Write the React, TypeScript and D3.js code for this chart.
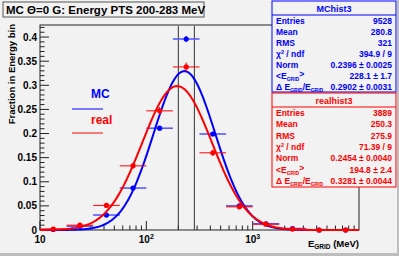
import * as React from "react";
import * as d3 from "d3";

// bin centres, log10(E / MeV), bins are 0.25 decade wide
const binCentersLog = [1.125, 1.375, 1.625, 1.875, 2.125, 2.375, 2.625, 2.875, 3.125, 3.375, 3.625, 3.875];
const mcValues = [0.001, 0.008, 0.031, 0.087, 0.211, 0.396, 0.199, 0.050, 0.013, 0.003, 0.0, 0.0];
const mcErrors = [0.0003, 0.0009, 0.0018, 0.003, 0.0047, 0.0064, 0.0046, 0.0023, 0.0012, 0.0006, 0, 0];
const realValues = [0.002, 0.010, 0.051, 0.133, 0.247, 0.338, 0.160, 0.048, 0.012, 0.002, 0.0, 0.0];
const realErrors = [0.0007, 0.0016, 0.0036, 0.0058, 0.008, 0.0093, 0.0064, 0.0035, 0.0018, 0.0007, 0, 0];

const yTicks = [0, 0.05, 0.1, 0.15, 0.2, 0.25, 0.3, 0.35, 0.4];
const yTickLabels = ["0", "0.05", "0.1", "0.15", "0.2", "0.25", "0.3", "0.35", "0.4"];
const xTicks = [10, 100, 1000];
const xTickExp = ["", "2", "3"];
const cutLines = [200, 283];

const mcStats = [
  ["Entries", "9528"],
  ["Mean", "280.8"],
  ["RMS", "321"],
  ["chi", "394.9 / 9"],
  ["Norm", "0.2396 ± 0.0025"],
  ["E", "228.1 ± 1.7"],
  ["dE", "0.2902 ± 0.0031"],
];
const realStats = [
  ["Entries", "3889"],
  ["Mean", "250.3"],
  ["RMS", "275.9"],
  ["chi", "71.39 / 9"],
  ["Norm", "0.2454 ± 0.0040"],
  ["E", "194.8 ± 2.4"],
  ["dE", "0.3281 ± 0.0044"],
];
const mcFit = { norm: 0.2396, mean: 228.1, width: 0.2902 };
const realFit = { norm: 0.2454, mean: 194.8, width: 0.3281 };

const W = 399, H = 256;
const frame = { left: 40, right: 359, top: 25, bottom: 230 };
const FONT = "'Liberation Sans', Arial, Helvetica, sans-serif";
const BLUE = "#0000ff";
const RED = "#ff0000";

const x = d3.scaleLog().domain([10, 10000]).range([frame.left, frame.right]);
const y = d3.scaleLinear().domain([0, 0.425]).range([frame.bottom, frame.top]);

// gaussian in log10(E) fitted to each histogram
function fitCurve(p: { norm: number; mean: number; width: number }) {
  const m = Math.log10(p.mean);
  const pts = d3.range(0, 301).map(i => {
    const lx = 1 + (3 * i) / 300;
    const v = (p.norm / (p.width * Math.sqrt(2 * Math.PI))) *
      Math.exp(-((lx - m) ** 2) / (2 * p.width * p.width));
    return [Math.pow(10, lx), v] as [number, number];
  });
  return d3.line<[number, number]>().x(d => x(d[0])).y(d => y(d[1]))(pts) || "";
}

function StatLabel({ k }: { k: string }) {
  if (k === "chi") return <tspan>χ<tspan dy={-3} fontSize={5.5}>2</tspan><tspan dy={3}> / ndf</tspan></tspan>;
  if (k === "E") return <tspan>{"<E"}<tspan dy={2} fontSize={5}>GRID</tspan><tspan dy={-4}>{">"}</tspan></tspan>;
  if (k === "dE") return <tspan>Δ E<tspan dy={2} fontSize={5}>GRID</tspan><tspan dy={-2}>/E</tspan><tspan dy={2} fontSize={5}>GRID</tspan></tspan>;
  return <tspan>{k}</tspan>;
}

function StatsBox({ title, rows, color, top, bottom }: any) {
  const x0 = 272, x1 = 396;
  const rowH = (bottom - top - 14) / rows.length;
  return (
    <g fontFamily={FONT} fontWeight="bold" fontSize={8.5} fill={color}>
      <rect x={x0} y={top} width={x1 - x0} height={bottom - top} fill="#f2f2f2" stroke={color} />
      <text x={(x0 + x1) / 2} y={top + 10.5} textAnchor="middle" fontSize={9}>{title}</text>
      <line x1={x0} x2={x1} y1={top + 14} y2={top + 14} stroke={color} />
      {rows.map((r: string[], i: number) => {
        const cy = top + 14 + rowH * (i + 0.5) + 3;
        return (
          <g key={i}>
            <text x={x0 + 4} y={cy}><StatLabel k={r[0]} /></text>
            <text x={x1 - 4} y={cy} textAnchor="end">{r[1]}</text>
          </g>
        );
      })}
    </g>
  );
}

function Histo({ values, errors, color, barColor, barWidth }: any) {
  return (
    <g>
      {binCentersLog.map((c, i) => {
        const cx = x(Math.pow(10, c));
        const cy = y(values[i]);
        return (
          <g key={i}>
            <line x1={x(Math.pow(10, c - 0.125))} x2={x(Math.pow(10, c + 0.125))} y1={cy} y2={cy}
              stroke={barColor} strokeWidth={barWidth} />
            <line x1={cx} x2={cx} y1={y(values[i] - errors[i])} y2={y(values[i] + errors[i])} stroke={color} />
            <circle cx={cx} cy={cy} r={2.6} fill={color} />
          </g>
        );
      })}
    </g>
  );
}

export default function App() {
  const yMinor = d3.range(0, 0.4201, 0.01);
  const xMinor: number[] = [];
  [10, 100, 1000].forEach(d => { for (let k = 2; k <= 9; k++) xMinor.push(d * k); });

  return (
    <svg width={W} height={H} style={{ position: "absolute", left: 0, top: 0, background: "#f2f2f2" }}>
      {/* canvas bevel */}
      <rect x={0} y={0} width={W} height={H} fill="#f2f2f2" />
      <line x1={0} x2={W} y1={H - 1.5} y2={H - 1.5} stroke="#bdbdbd" strokeWidth={3} />
      <line x1={W - 1} x2={W - 1} y1={0} y2={H} stroke="#bdbdbd" strokeWidth={2} />

      {/* frame */}
      <rect x={frame.left} y={frame.top} width={frame.right - frame.left} height={frame.bottom - frame.top}
        fill="#f2f2f2" stroke="#222" strokeWidth={1} />

      {/* y ticks */}
      {yMinor.map((v, i) => {
        const major = i % 5 === 0;
        return <line key={i} x1={frame.left} x2={frame.left + (major ? 9 : 4.5)} y1={y(v)} y2={y(v)} stroke="#222" />;
      })}
      {/* x ticks */}
      {xMinor.map((v, i) => (
        <line key={i} x1={x(v)} x2={x(v)} y1={frame.bottom} y2={frame.bottom - 4.5} stroke="#222" />
      ))}
      {xTicks.map(v => (
        <line key={v} x1={x(v)} x2={x(v)} y1={frame.bottom} y2={frame.bottom - 9} stroke="#222" />
      ))}

      <g fontFamily={FONT} fontWeight="bold" fontSize={10} fill="#000">
        {yTicks.map((v, i) => (
          <text key={v} x={frame.left - 3} y={y(v) + 3.5} textAnchor="end">{yTickLabels[i]}</text>
        ))}
        {xTicks.map((v, i) => (
          <text key={v} x={x(v)} y={frame.bottom + 13} textAnchor="middle">
            10{xTickExp[i] && <tspan dy={-4} fontSize={7}>{xTickExp[i]}</tspan>}
          </text>
        ))}
        <text x={frame.right} y={frame.bottom + 17} textAnchor="end" fontSize={9.5}>
          E<tspan dy={2} fontSize={6.5}>GRID</tspan><tspan dy={-2}> (MeV)</tspan>
        </text>
        <text transform={`translate(15,${frame.top - 1}) rotate(-90)`} textAnchor="end" fontSize={9.5}>
          Fraction in Energy bin
        </text>
      </g>

      {/* energy window */}
      {cutLines.map(v => (
        <line key={v} x1={x(v)} x2={x(v)} y1={frame.bottom} y2={frame.top + 1} stroke="#333" strokeWidth={1} />
      ))}

      <Histo values={mcValues} errors={mcErrors} color={BLUE} barColor="#5a5aff" barWidth={1.6} />
      <path d={fitCurve(mcFit)} fill="none" stroke={BLUE} strokeWidth={2} />
      <Histo values={realValues} errors={realErrors} color={RED} barColor={RED} barWidth={1} />
      <path d={fitCurve(realFit)} fill="none" stroke={RED} strokeWidth={2} />

      {/* legend */}
      <g fontFamily={FONT} fontWeight="bold" fontSize={12}>
        <text x={91} y={98} fill={BLUE}>MC</text>
        <line x1={72} x2={103} y1={109} y2={109} stroke={BLUE} />
        <text x={91} y={124} fill={RED}>real</text>
        <line x1={72} x2={103} y1={133} y2={133} stroke={RED} />
      </g>

      <StatsBox title="MChist3" rows={mcStats} color={BLUE} top={1} bottom={92} />
      <StatsBox title="realhist3" rows={realStats} color={RED} top={93} bottom={187} />

      {/* title */}
      <rect x={3} y={2} width={201} height={15} fill="#f2f2f2" stroke="#555" />
      <text x={6} y={13.5} fontFamily={FONT} fontWeight="bold" fontSize={11.5}>MC Θ=0 G: Energy PTS 200-283 MeV</text>
    </svg>
  );
}
